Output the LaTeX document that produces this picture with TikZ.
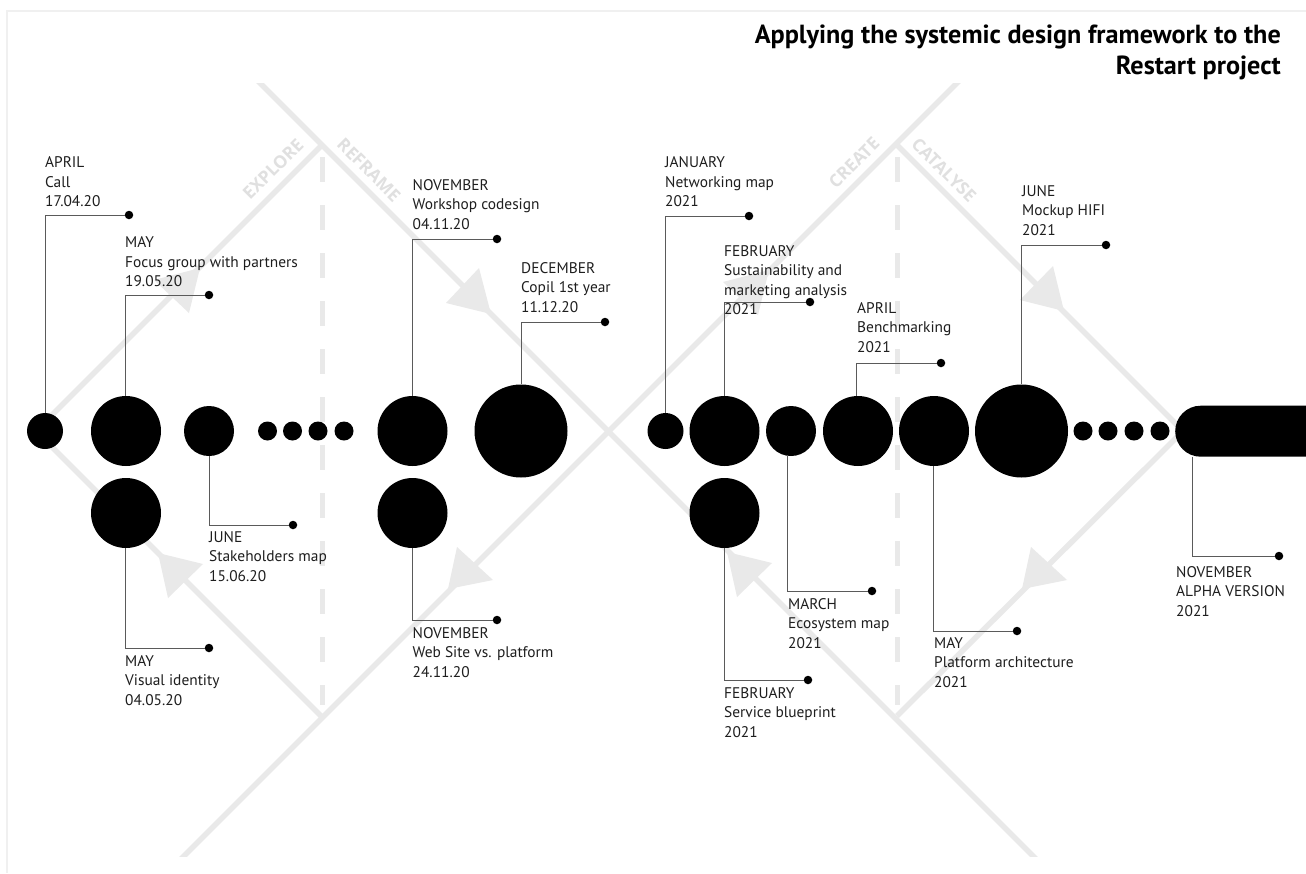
\documentclass[tikz,border=0pt]{standalone}
\usepackage{fontspec}
\setmainfont{PT Sans}
\newfontfamily\phasefont{Open Sans}
\usetikzlibrary{shapes.misc}
\definecolor{guide}{HTML}{E9E9E9}
\definecolor{guidetxt}{HTML}{E0E0E0}
\definecolor{frameline}{HTML}{F0F0F0}
\definecolor{leader}{HTML}{5A5A5A}
\definecolor{labtxt}{HTML}{1E1E1E}
\tikzset{
  guideline/.style={draw=guide,line width=5.5pt},
  dashguide/.style={draw=guide,line width=5pt,dash pattern=on 25pt off 23pt},
  headtip/.style={fill=guide,draw=none},
  phase/.style={text=guidetxt,font=\phasefont\bfseries\fontsize{17.5}{20}\selectfont,inner sep=0pt},
  ball/.style={circle,fill=black,draw=none,inner sep=0pt,minimum size=#1},
  pin/.style={circle,fill=black,draw=none,inner sep=0pt,minimum size=8.5pt},
  leaderline/.style={draw=leader,line width=1pt},
  lab/.style={text=labtxt,font=\fontsize{15.4}{19.5}\selectfont,align=left,inner sep=0pt,anchor=north west,execute at begin node={\rule{0pt}{12pt}}},
  ttl/.style={text=black,font=\bfseries\fontsize{26.2}{31}\selectfont,align=right,inner sep=0pt,anchor=north east}
}
\begin{document}
\begin{tikzpicture}[x=1pt,y=-1pt]
\useasboundingbox (0,0) rectangle (1306,873);
\fill[white] (0,0) rectangle (1306,873);
\draw[frameline,line width=2pt] (1306,10.5) -- (7,10.5) -- (7,873);
% guides
\begin{scope}
\clip (0,83) rectangle (1306,856);
\draw[guideline] (250,73) -- (1043,866);
\draw[guideline] (322,145) -- (36,431) -- (322,717);
\draw[guideline] (967,73) -- (174,866);
\draw[guideline] (897,145) -- (1183,431) -- (897,716);
\end{scope}
\draw[dashguide] (322,157) -- (322,705);
\draw[dashguide] (897,157) -- (897,705);
% arrow heads
\fill[headtip] (491,314) -- (479,268) -- (446,303) -- cycle;
\fill[headtip] (1064,311) -- (1053,266) -- (1020,300) -- cycle;
\fill[headtip] (200,268) -- (154,280) -- (189,313) -- cycle;
\fill[headtip] (769,270) -- (723,282) -- (758,315) -- cycle;
\fill[headtip] (158,553) -- (203,564) -- (168,598) -- cycle;
\fill[headtip] (727,552) -- (772,563) -- (737,597) -- cycle;
\fill[headtip] (448,589) -- (493,580) -- (457,547) -- cycle;
\fill[headtip] (1022,589) -- (1067,580) -- (1031,547) -- cycle;
% phase labels
\node[phase,rotate=45] (pE) at (273,169) {EXPLORE};
\node[phase,rotate=-45] (pR) at (369,170) {REFRAME};
\node[phase,rotate=45] (pC) at (854,163) {CREATE};
\node[phase,rotate=-45] (pK) at (944,170) {CATALYSE};
% timeline
\node[ball=36pt] (c1) at (45,431) {};
\node[ball=70pt] (c2) at (126,431) {};
\node[ball=70pt] (c2b) at (126,513) {};
\node[ball=50pt] (c3) at (209,431) {};
\node[ball=19pt] (s1) at (267.5,431) {};
\node[ball=19pt] (s2) at (292.5,431) {};
\node[ball=19pt] (s3) at (318,431) {};
\node[ball=19pt] (s4) at (344,431) {};
\node[ball=70pt] (c4) at (412.5,431) {};
\node[ball=70pt] (c4b) at (412.5,513) {};
\node[ball=93pt] (c5) at (521,431) {};
\node[ball=36pt] (c6) at (665.5,431) {};
\node[ball=70pt] (c7) at (724.5,431) {};
\node[ball=70pt] (c7b) at (724.5,513) {};
\node[ball=50pt] (c8) at (791,431) {};
\node[ball=70pt] (c9) at (858,431) {};
\node[ball=70pt] (c10) at (934,431) {};
\node[ball=93pt] (c11) at (1021.5,431) {};
\node[ball=19pt] (s5) at (1083,431) {};
\node[ball=19pt] (s6) at (1108,431) {};
\node[ball=19pt] (s7) at (1134,431) {};
\node[ball=19pt] (s8) at (1160,431) {};
\node[rounded rectangle,rounded rectangle right arc=none,fill=black,draw=none,inner sep=0pt,minimum width=131pt,minimum height=51pt,anchor=west] (pill) at (1175,431.2) {};
\coordinate (pillfoot) at (1192,456.7);
% pins
\node[pin] (d1) at (129,215) {};
\node[pin] (d2) at (209,295) {};
\node[pin] (d3) at (497,239) {};
\node[pin] (d4) at (605,322) {};
\node[pin] (d5) at (749,216) {};
\node[pin] (d6) at (810,302) {};
\node[pin] (d7) at (941,363) {};
\node[pin] (d8) at (1106,245) {};
\node[pin] (d9) at (293,525) {};
\node[pin] (d10) at (209,648) {};
\node[pin] (d11) at (497,620) {};
\node[pin] (d12) at (872,591) {};
\node[pin] (d13) at (808,680) {};
\node[pin] (d14) at (1017,631) {};
\node[pin] (d15) at (1279,556) {};
% leaders
\draw[leaderline] (c1.north) |- (d1);
\draw[leaderline] ([xshift=-1pt]c2.north) |- (d2);
\draw[leaderline] (c4.north) |- (d3);
\draw[leaderline] (c5.north) |- (d4);
\draw[leaderline] (c6.north) |- (d5);
\draw[leaderline] (c7.north) |- (d6);
\draw[leaderline] ([xshift=-2pt]c9.north) |- (d7);
\draw[leaderline] (c11.north) |- (d8);
\draw[leaderline] (c3.south) |- (d9);
\draw[leaderline] ([xshift=-1pt]c2b.south) |- (d10);
\draw[leaderline] (c4b.south) |- (d11);
\draw[leaderline] ([xshift=-4pt]c8.south) |- (d12);
\draw[leaderline] (c7b.south) |- (d13);
\draw[leaderline] ([xshift=-1pt]c10.south) |- (d14);
\draw[leaderline] (pillfoot) |- (d15);
% labels
\node[lab] (t1) at (45,156.5) {APRIL\\Call\\17.04.20};
\node[lab] (t2) at (125,236.5) {MAY\\Focus group with partners\\19.05.20};
\node[lab] (t3) at (412.5,179) {NOVEMBER\\Workshop codesign\\04.11.20};
\node[lab] (t4) at (521,262) {DECEMBER\\Copil 1st year\\11.12.20};
\node[lab] (t5) at (665,156.5) {JANUARY\\Networking map\\2021};
\node[lab] (t6) at (724,245) {FEBRUARY\\Sustainability and\\marketing analysis\\2021};
\node[lab] (t7) at (857,302) {APRIL\\Benchmarking\\2021};
\node[lab] (t8) at (1022,185) {JUNE\\Mockup HIFI\\2021};
\node[lab] (t9) at (209,531) {JUNE\\Stakeholders map\\15.06.20};
\node[lab] (t10) at (125,655) {MAY\\Visual identity\\04.05.20};
\node[lab] (t11) at (412.5,627) {NOVEMBER\\Web Site vs. platform\\24.11.20};
\node[lab] (t12) at (788,598) {MARCH\\Ecosystem map\\2021};
\node[lab] (t13) at (724,687) {FEBRUARY\\Service blueprint\\2021};
\node[lab] (t14) at (934,637) {MAY\\Platform architecture\\2021};
\node[lab] (t15) at (1176,566) {NOVEMBER\\ALPHA VERSION\\2021};
% title
\node[ttl] (title) at (1281,25) {Applying the systemic design framework to the\\Restart project};
\end{tikzpicture}
\end{document}
